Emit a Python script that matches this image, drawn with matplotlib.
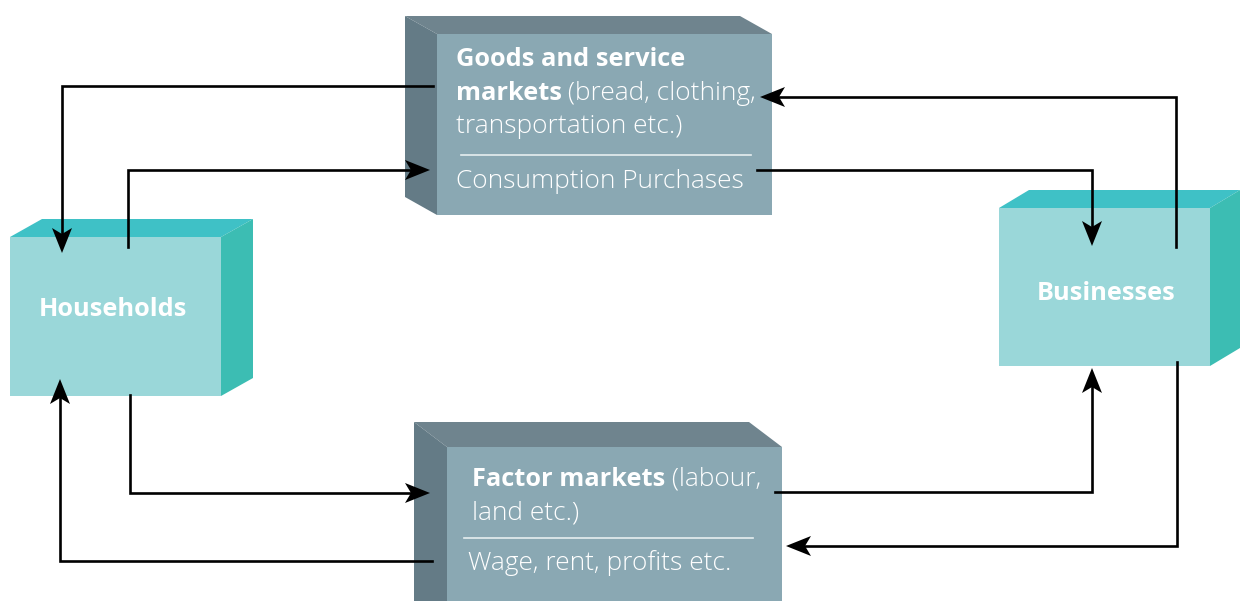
import numpy as np
import matplotlib.pyplot as plt
from matplotlib.patches import Polygon

# --------------------------------------------------
# Diagram content
# --------------------------------------------------
goods_bold_1 = 'Goods and service'
goods_bold_2 = 'markets'
goods_reg_2 = ' (bread, clothing,'
goods_reg_3 = 'transportation etc.)'
goods_flow = 'Consumption Purchases'

factor_bold = 'Factor markets'
factor_reg_1 = ' (labour,'
factor_reg_2 = 'land etc.)'
factor_flow = 'Wage, rent, profits etc.'

households_label = 'Households'
businesses_label = 'Businesses'

# boxes: front face (x0, y0, x1, y1) in pixel space
goods_box = (437, 34, 772, 215)
factor_box = (447, 447, 782, 640)
households_box = (10, 237, 221, 396)
businesses_box = (999, 208, 1210, 366)

# connector paths (polyline, arrow at the last point)
arrow_paths = [
    [(433, 86), (62, 86), (62, 253)],
    [(128, 247), (128, 170), (430, 170)],
    [(757, 170), (1092, 170), (1092, 246)],
    [(1176, 247), (1176, 97), (760, 97)],
    [(130, 395), (130, 493), (430, 493)],
    [(432, 561), (60, 561), (60, 379)],
    [(775, 492), (1092, 492), (1092, 368)],
    [(1177, 362), (1177, 546), (786, 546)],
]

# colours
slate_front = '#8aa8b3'
slate_top = '#6f848e'
slate_side = '#647b86'
teal_front = '#9ad7d9'
teal_top = '#3fc1c6'
teal_side = '#3cbdb3'

plt.rcParams['font.family'] = ['Open Sans', 'DejaVu Sans']

fig = plt.figure(figsize=(12.4, 6.01), dpi=100)
ax = fig.add_axes([0, 0, 1, 1])
ax.set_xlim(0, 1240)
ax.set_ylim(601, 0)
ax.axis('off')


def box_left_depth(box, dx, dy, front, top, side):
    x0, y0, x1, y1 = box
    ax.add_patch(Polygon([(x0 - dx, y0 - dy), (x1 - dx, y0 - dy), (x1, y0), (x0, y0)],
                         closed=True, fc=top, ec='none'))
    ax.add_patch(Polygon([(x0 - dx, y0 - dy), (x0, y0), (x0, y1), (x0 - dx, y1 - dy)],
                         closed=True, fc=side, ec='none'))
    ax.add_patch(Polygon([(x0, y0), (x1, y0), (x1, y1), (x0, y1)],
                         closed=True, fc=front, ec='none'))


def box_right_depth(box, dx, dy, front, top, side):
    x0, y0, x1, y1 = box
    ax.add_patch(Polygon([(x0, y0), (x0 + dx, y0 - dy), (x1 + dx, y0 - dy), (x1, y0)],
                         closed=True, fc=top, ec='none'))
    ax.add_patch(Polygon([(x1, y0), (x1 + dx, y0 - dy), (x1 + dx, y1 - dy), (x1, y1)],
                         closed=True, fc=side, ec='none'))
    ax.add_patch(Polygon([(x0, y0), (x1, y0), (x1, y1), (x0, y1)],
                         closed=True, fc=front, ec='none'))


box_left_depth(goods_box, 32, 18, slate_front, slate_top, slate_side)
box_left_depth(factor_box, 33, 25, slate_front, slate_top, slate_side)
box_right_depth(households_box, 32, 18, teal_front, teal_top, teal_side)
box_right_depth(businesses_box, 30, 18, teal_front, teal_top, teal_side)


def arrow_head(tip, direction, length=25, width=20, notch=6):
    d = np.array(direction, dtype=float)
    d = d / np.linalg.norm(d)
    n = np.array([-d[1], d[0]])
    tip = np.array(tip, dtype=float)
    back = tip - d * length
    pts = [tip, back + n * width / 2, tip - d * (length - notch), back - n * width / 2]
    ax.add_patch(Polygon(pts, closed=True, fc='black', ec='none', zorder=5))


for path in arrow_paths:
    xs, ys = zip(*path)
    p_end = np.array(path[-1], dtype=float)
    p_prev = np.array(path[-2], dtype=float)
    d = p_end - p_prev
    d = d / np.linalg.norm(d)
    # stop the line inside the head
    line_end = p_end - d * 15
    ax.plot(list(xs[:-1]) + [line_end[0]], list(ys[:-1]) + [line_end[1]],
            color='black', lw=1.9, solid_joinstyle='miter', zorder=4)
    arrow_head(p_end, d)

fs_b = 18.3
fs_r = 18.9
bold = dict(color='white', fontsize=fs_b, fontweight='bold', va='baseline', ha='left')
reg = dict(color='white', fontsize=fs_r, fontweight='light', va='baseline', ha='left')

# goods & service markets text
ax.text(456, 66, goods_bold_1, **bold)
t_b = ax.text(456, 100, goods_bold_2, **bold)
ax.text(456, 133, goods_reg_3, **reg)
ax.plot([461, 751], [155, 155], color='#e6eef0', lw=1.2)
ax.text(456, 188, goods_flow, **reg)

# factor markets text
t_f = ax.text(472, 486, factor_bold, **bold)
ax.text(472, 519, factor_reg_2, **reg)
ax.plot([464, 753], [538, 538], color='#e6eef0', lw=1.2)
ax.text(468, 570, factor_flow, **reg)

fig.canvas.draw()
inv = ax.transData.inverted()
x_after_b = inv.transform((t_b.get_window_extent().x1, 0))[0]
x_after_f = inv.transform((t_f.get_window_extent().x1, 0))[0]
ax.text(x_after_b - 1, 100, goods_reg_2, **reg)
ax.text(x_after_f, 486, factor_reg_1, **reg)

# household / business labels
ax.text(113, 310, households_label, color='white', fontsize=fs_b, fontweight='bold',
        ha='center', va='center')
ax.text(1106, 294, businesses_label, color='white', fontsize=fs_b, fontweight='bold',
        ha='center', va='center')

fig.savefig('out.png', dpi=100)
